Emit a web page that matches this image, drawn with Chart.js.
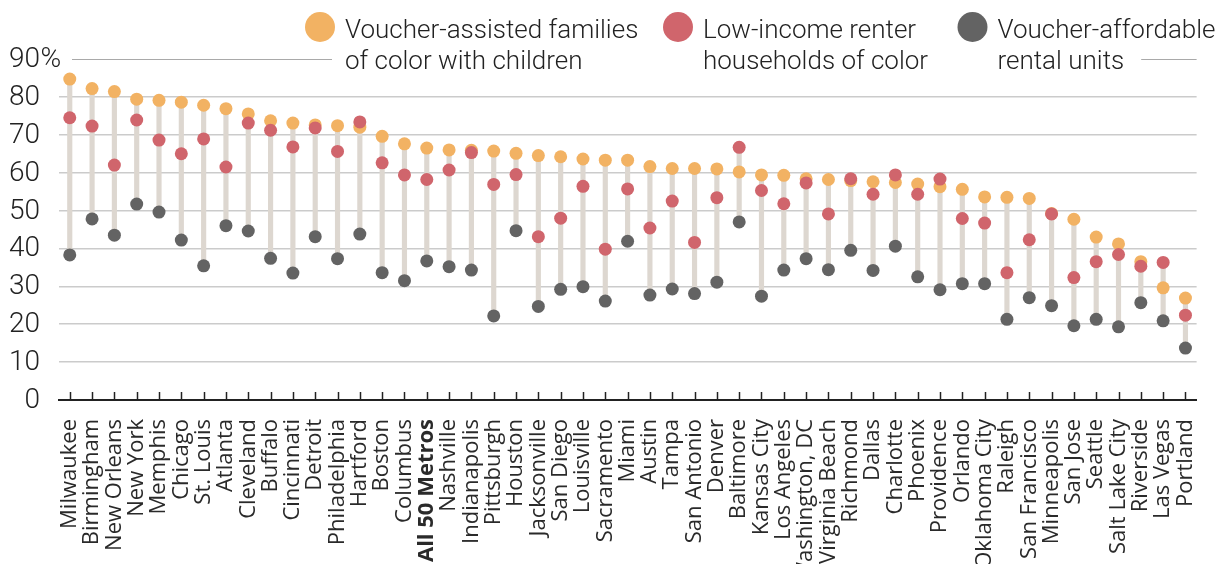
<!DOCTYPE html>
<html><head><meta charset="utf-8">
<script src="https://cdn.jsdelivr.net/npm/chart.js@4.4.1/dist/chart.umd.min.js"></script>
<style>html,body{margin:0;padding:0;background:#fff;}canvas{display:block;}</style>
</head><body>
<canvas id="c" width="1231" height="564"></canvas>
<script>
const categories = ['Milwaukee','Birmingham','New Orleans','New York','Memphis','Chicago','St. Louis','Atlanta','Cleveland','Buffalo','Cincinnati','Detroit','Philadelphia','Hartford','Boston','Columbus','All 50 Metros','Nashville','Indianapolis','Pittsburgh','Houston','Jacksonville','San Diego','Louisville','Sacramento','Miami','Austin','Tampa','San Antonio','Denver','Baltimore','Kansas City','Los Angeles','Washington, DC','Virginia Beach','Richmond','Dallas','Charlotte','Phoenix','Providence','Orlando','Oklahoma City','Raleigh','San Francisco','Minneapolis','San Jose','Seattle','Salt Lake City','Riverside','Las Vegas','Portland'];
const familiesOfColor = [84.7,82.2,81.4,79.4,79.1,78.6,77.8,76.9,75.5,73.7,73.1,72.6,72.4,72.0,69.6,67.6,66.5,66.0,65.9,65.7,65.1,64.5,64.2,63.6,63.3,63.3,61.6,61.1,61.1,61.0,60.2,59.4,59.3,58.4,58.2,57.9,57.6,57.4,57.0,56.3,55.6,53.6,53.5,53.2,49.2,47.7,43.0,41.2,36.5,29.6,26.9];
const lowIncomeRenters = [74.5,72.3,62.0,73.9,68.6,65.0,68.9,61.5,73.1,71.2,66.8,71.8,65.6,73.4,62.6,59.4,58.2,60.7,65.3,56.9,59.5,43.1,48.0,56.4,39.8,55.7,45.4,52.5,41.6,53.4,66.7,55.3,51.8,57.3,49.1,58.4,54.3,59.4,54.3,58.3,47.9,46.7,33.6,42.3,49.1,32.3,36.5,38.4,35.3,36.3,22.4];
const affordableUnits = [38.3,47.8,43.5,51.7,49.6,42.2,35.4,46.0,44.6,37.4,33.5,43.1,37.3,43.8,33.6,31.5,36.7,35.2,34.3,22.2,44.7,24.7,29.2,29.9,26.1,41.9,27.7,29.3,28.1,31.1,47.0,27.4,34.3,37.3,34.4,39.5,34.2,40.6,32.5,29.1,30.7,30.7,21.3,27.0,24.9,19.6,21.3,19.3,25.7,20.9,13.7];
const yTicks = [0,10,20,30,40,50,60,70,80,90];
const yTickLabels = ['0','10','20','30','40','50','60','70','80','90'];
const seriesNames = [
  ['Voucher-assisted families','of color with children'],
  ['Low-income renter','households of color'],
  ['Voucher-affordable','rental units']
];
const boldCategory = 'All 50 Metros';

const COLORS = ['#f2b263', '#d0656c', '#636363'];
const STEM = '#ddd7d0';
const TXT = '#222222';
const LEGEND_FONT = '300 26px Roboto, "Open Sans", sans-serif';
const YFONT = '300 28px Roboto, "Open Sans", sans-serif';

const ranges = categories.map((_, i) => {
  const v = [familiesOfColor[i], lowIncomeRenters[i], affordableUnits[i]];
  return [Math.min(...v), Math.max(...v)];
});

const overlay = {
  id: 'overlay',
  afterDraw(chart) {
    const ctx = chart.ctx;
    const y = chart.scales.y, x = chart.scales.x;
    const area = chart.chartArea;
    ctx.save();
    ctx.strokeStyle = '#222';
    ctx.lineWidth = 1.5;
    for (let i = 0; i < categories.length; i++) {
      const px = Math.round(x.getPixelForValue(i)) + 0.5;
      ctx.beginPath();
      ctx.moveTo(px, area.bottom);
      ctx.lineTo(px, area.bottom - 8);
      ctx.stroke();
    }
    ctx.font = YFONT;
    ctx.fillStyle = TXT;
    ctx.textBaseline = 'middle';
    const rightX = 40;
    yTicks.forEach((v, i) => {
      const py = y.getPixelForValue(v) + 1;
      ctx.textAlign = 'right';
      ctx.fillText(yTickLabels[i], rightX, py);
      if (i === yTicks.length - 1) {
        ctx.textAlign = 'left';
        ctx.fillText('%', rightX + 0.5, py);
      }
    });
    const centers = [320, 678, 972.5];
    const cy = 27;
    ctx.font = LEGEND_FONT;
    ctx.textBaseline = 'alphabetic';
    ctx.textAlign = 'left';
    let lastEnd = 0;
    seriesNames.forEach((lines, k) => {
      ctx.fillStyle = COLORS[k];
      ctx.beginPath();
      ctx.arc(centers[k], cy, 15, 0, Math.PI * 2);
      ctx.fill();
      ctx.fillStyle = TXT;
      const tx = centers[k] + 25;
      ctx.fillText(lines[0], tx, 37.5);
      ctx.fillText(lines[1], tx, 68.5);
      if (k === seriesNames.length - 1) lastEnd = tx + ctx.measureText(lines[1]).width;
    });
    const gy = Math.round(y.getPixelForValue(90)) + 0.5;
    ctx.strokeStyle = '#a9a9a9';
    ctx.lineWidth = 1;
    ctx.beginPath();
    ctx.moveTo(72, gy); ctx.lineTo(centers[0] + 12, gy);
    ctx.moveTo(lastEnd + 17, gy); ctx.lineTo(area.right, gy);
    ctx.stroke();
    ctx.restore();
  }
};

new Chart(document.getElementById('c'), {
  type: 'bar',
  data: {
    labels: categories,
    datasets: [
      { type: 'line', label: seriesNames[2].join(' '), data: affordableUnits, showLine: false,
        pointRadius: 6.5, pointHoverRadius: 6.5, pointBorderWidth: 0,
        pointBackgroundColor: COLORS[2], borderColor: COLORS[2], order: 1 },
      { type: 'line', label: seriesNames[1].join(' '), data: lowIncomeRenters, showLine: false,
        pointRadius: 6.5, pointHoverRadius: 6.5, pointBorderWidth: 0,
        pointBackgroundColor: COLORS[1], borderColor: COLORS[1], order: 2 },
      { type: 'line', label: seriesNames[0].join(' '), data: familiesOfColor, showLine: false,
        pointRadius: 6.5, pointHoverRadius: 6.5, pointBorderWidth: 0,
        pointBackgroundColor: COLORS[0], borderColor: COLORS[0], order: 3 },
      { type: 'bar', label: 'range', data: ranges, backgroundColor: STEM,
        barThickness: 4.5, borderWidth: 0, borderSkipped: false, order: 10 }
    ]
  },
  options: {
    responsive: false,
    animation: false,
    devicePixelRatio: 1,
    layout: { padding: { top: 59, right: 15, left: 0, bottom: 0 } },
    plugins: { legend: { display: false }, tooltip: { enabled: false } },
    scales: {
      x: {
        offset: true,
        grid: { display: false, drawTicks: false },
        border: { display: true, color: '#222', width: 2 },
        ticks: {
          autoSkip: false, minRotation: 90, maxRotation: 90, padding: 19,
          color: '#2a2a2a',
          font: (c) => ({ family: '"Open Sans", sans-serif', size: 22,
            weight: categories[c.index] === boldCategory ? 'bold' : 'normal' })
        },
        afterFit: (s) => { s.height = 164; }
      },
      y: {
        min: 0, max: 90,
        afterBuildTicks: (s) => { s.ticks = yTicks.map(v => ({ value: v })); },
        grid: {
          drawTicks: false,
          color: (c) => (c.tick && c.tick.value === 90) ? 'rgba(0,0,0,0)' : '#cbcbcb',
          lineWidth: 1.5
        },
        border: { display: false },
        ticks: { display: false },
        afterFit: (s) => { s.width = 58.6; }
      }
    }
  },
  plugins: [overlay]
});
</script>
</body></html>
